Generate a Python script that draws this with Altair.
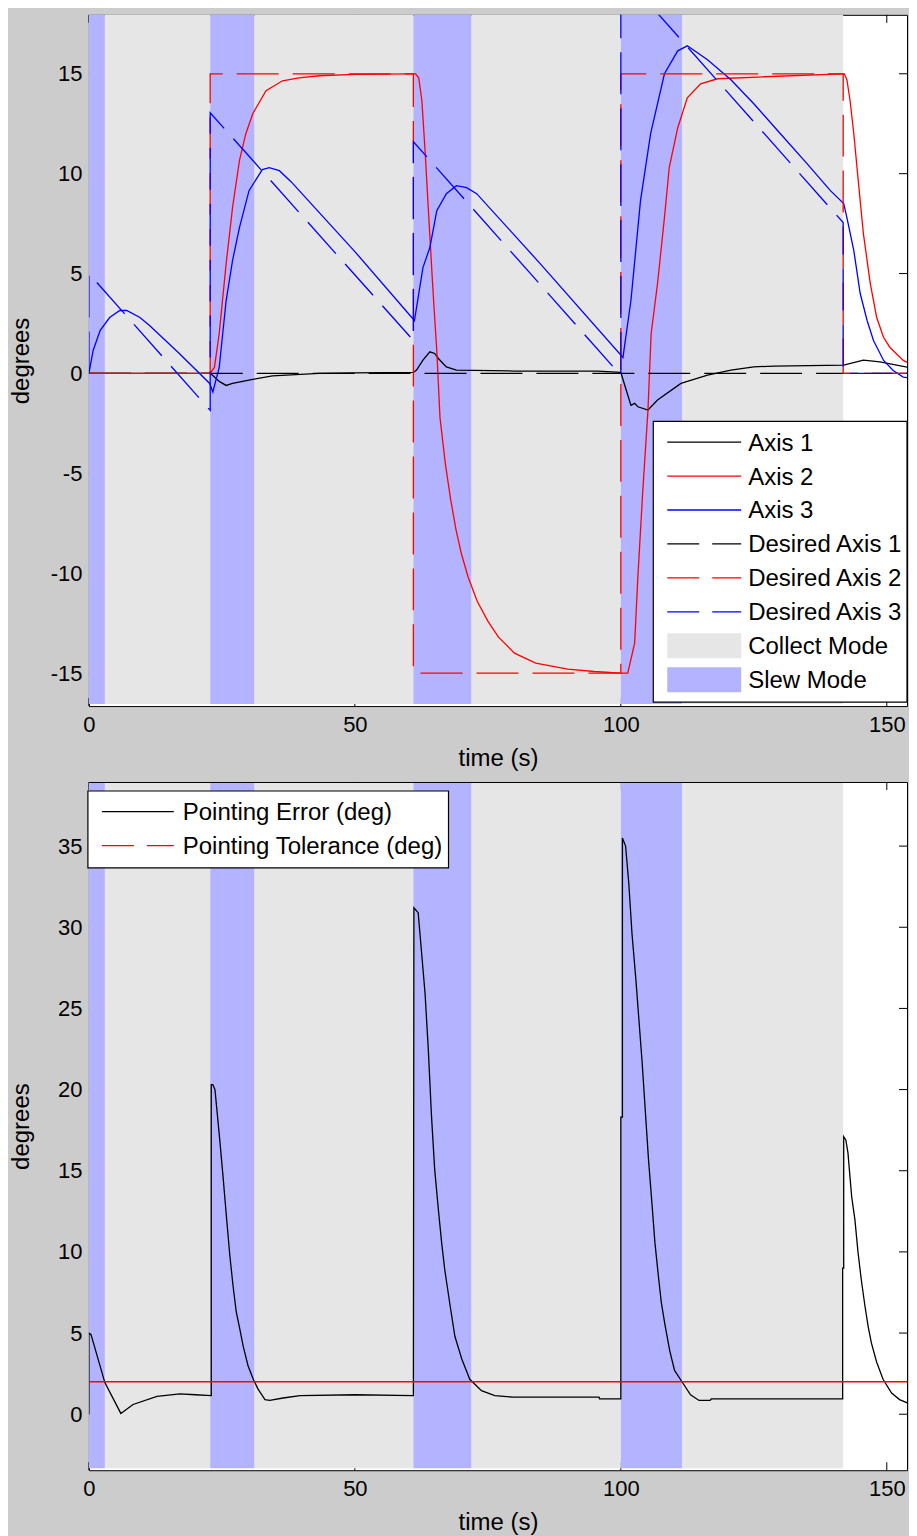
import altair as alt
import pandas as pd

# ---------------- data ----------------
# Top panel: attitude angles (deg) vs time (s)
t_axis1 = [0, 22.8, 23.3, 24.5, 25.8, 27.0, 30.8, 34.5, 38.9, 43.3, 50.0, 61.0, 61.6, 62.8, 64.1, 65.0,
           65.7, 67.2, 69.1, 80.0, 95.7, 100.0, 101.9, 102.6, 103.2, 105.1, 106.9, 111.3, 116.3, 120.7,
           125.0, 128.8, 141.9, 145.6, 148.7, 155.0]
axis1 = [0, 0, -0.1, -0.4, -0.6, -0.5, -0.3, -0.12, -0.06, 0, 0.03, 0.05, 0.17, 0.67, 1.08, 1.0,
         0.75, 0.33, 0.17, 0.12, 0.12, 0.05, -1.6, -1.5, -1.67, -1.83, -1.33, -0.5, -0.08, 0.17,
         0.33, 0.37, 0.42, 0.67, 0.58, 0.25]

t_axis2 = [0, 22.8, 23.6, 24.5, 25.8, 27.0, 28.3, 29.5, 30.8, 33.3, 36.4, 39.5, 43.3, 50, 61.0, 61.4,
           62.0, 62.6, 63.2, 63.9, 64.5, 64.8, 65.4, 66.0, 67.0, 68.0, 69.0, 70.0, 71.3, 73.0, 75.0,
           77.0, 80.0, 84.0, 90.0, 95.0, 100.0, 101.3, 102.6, 103.2, 104.1, 105.1, 105.7, 106.9, 108.2,
           109.1, 110.7, 112.5, 115.0, 118.2, 127.0, 141.6, 142.0, 142.5, 143.1, 143.8, 144.4, 145.0,
           145.6, 146.3, 146.9, 148.1, 149.4, 150.6, 153.1, 155.0]
axis2 = [0, 0, 0.3, 2.0, 5.5, 8.3, 10.65, 12.0, 13.0, 14.15, 14.65, 14.8, 14.9, 14.97, 15.0, 15.0,
         14.8, 13.65, 11.15, 7.8, 5.0, 3.65, 1.15, -2.2, -4.5, -6.3, -7.8, -9.0, -10.2, -11.4, -12.4,
         -13.2, -14.0, -14.5, -14.8, -14.92, -15.0, -15.0, -13.5, -10.2, -6.0, -1.85, 2.0, 4.5, 7.8,
         10.3, 12.3, 13.8, 14.5, 14.75, 14.85, 15.0, 15.0, 14.7, 13.65, 12.0, 10.3, 8.65,
         7.0, 5.65, 4.5, 2.8, 1.8, 1.3, 0.65, 0.4]

t_axis3 = [0, 0.8, 2.1, 3.9, 5.8, 7.1, 9.6, 11.4, 17.0, 22.7, 23.3, 24.5, 25.8, 27.0, 28.3, 30.1,
           32.6, 33.9, 35.8, 38.0, 50.0, 60.7, 61.2, 62.8, 64.1, 65.4, 67.2, 69.1, 71.0, 72.9, 85.0,
           100.4, 101.9, 103.7, 105.6, 108.2, 110.7, 112.5, 116.3, 120.7, 125.0, 130.0, 135.0, 139.4,
           141.9, 142.5, 143.8, 145.0, 146.3, 147.5, 149.4, 151.2, 153.1, 155.0]
axis3 = [0, 1.15, 2.15, 2.8, 3.15, 3.15, 2.8, 2.4, 1.0, -0.5, -0.93, 0.3, 3.65, 5.65, 7.3, 9.15,
         10.2, 10.3, 10.15, 9.6, 6.1, 2.8, 2.65, 5.3, 6.3, 8.15, 9.0, 9.4, 9.3, 9.0, 5.45,
         0.8, 3.65, 8.65, 12.0, 15.0, 16.15, 16.4, 15.7, 14.7, 13.5, 12.0, 10.5, 9.15,
         8.5, 7.8, 6.15, 4.0, 2.65, 1.65, 0.65, 0.15, -0.18, -0.27]

t_des1 = [0, 155.0]
des1 = [0, 0]
t_des2 = [0, 22.8, 22.8, 61.0, 61.0, 100.0, 100.0, 141.8, 141.8, 155.0]
des2 = [0, 0, 15, 15, -15, -15, 15, 15, 0, 0]
t_des3 = [0, 0, 22.8, 22.8, 61.0, 61.0, 100.0, 100.0, 141.8, 141.8, 155.0]
des3 = [0, 5.0, -1.85, 13.05, 1.65, 11.6, -0.1, 20.1, 7.55, 0, 0]

# Bottom panel: pointing error (deg) vs time (s)
t_err = [0, 0, 0.4, 3.0, 6.0, 8.3, 12.8, 17.1, 20.0, 23.0, 23.0, 23.3, 23.7, 24.6, 25.2, 25.9, 26.5,
         27.1, 27.7, 28.4, 29.0, 29.9, 30.9, 31.8, 33.1, 34.0, 36.5, 39.7, 50.0, 61.0, 61.1, 61.9,
         62.5, 63.2, 63.8, 64.4, 65.0, 65.7, 66.3, 66.9, 67.9, 68.8, 70.1, 71.6, 73.8, 76.3, 79.7,
         95.9, 96.0, 100.0, 100.0, 100.3, 100.3, 100.9, 101.5, 102.1, 102.8, 103.4, 104.0, 104.6,
         105.2, 105.8, 106.4, 107.0, 107.6, 108.3, 109.2, 110.1, 111.5, 113.1, 114.7, 116.8, 117.0,
         141.7, 141.7, 141.9, 141.9, 142.3, 142.7, 143.4, 144.0, 144.6, 145.2, 145.9, 146.5, 147.1,
         148.1, 149.3, 150.9, 152.4, 154.6, 155.0]
err = [0, 5.0, 4.9, 1.95, 0.05, 0.6, 1.1, 1.25, 1.2, 1.15, 20.3, 20.3, 20.0, 16.9, 14.7, 12.0, 9.75,
       7.9, 6.3, 5.2, 4.2, 3.0, 2.15, 1.55, 0.9, 0.85, 1.0, 1.15, 1.2, 1.15, 31.2, 30.9,
       28.6, 25.9, 22.5, 18.4, 15.1, 12.6, 10.6, 8.9, 6.7, 4.8, 3.4, 2.15, 1.45, 1.15, 1.05,
       1.05, 0.95, 0.95, 18.3, 18.3, 35.5, 35.0, 32.7, 29.6, 26.9, 24.3, 21.7, 18.7,
       15.7, 13.2, 10.6, 8.7, 6.9, 5.5, 3.9, 2.7, 2.0, 1.2, 0.85, 0.85, 0.95,
       0.95, 9.0, 9.0, 17.1, 16.9, 16.1, 13.4, 12.0, 9.95, 8.3, 6.65, 5.4, 4.4,
       3.2, 2.15, 1.3, 0.9, 0.6, 0.55]
t_tol = [0, 155.0]
tol = [2.0, 2.0]

# Mode intervals (s)
slew_start = [0.0, 22.8, 61.0, 100.0]
slew_end = [3.0, 31.1, 71.9, 111.5]
collect_start = [3.0, 31.1, 71.9, 111.5]
collect_end = [22.8, 61.0, 100.0, 141.8]

# Ticks and labels
x_ticks = [0, 50, 100, 150]
y_ticks_top = [-15, -10, -5, 0, 5, 10, 15]
y_ticks_bot = [0, 5, 10, 15, 20, 25, 30, 35]
legend_top = ["Axis 1", "Axis 2", "Axis 3", "Desired Axis 1", "Desired Axis 2", "Desired Axis 3",
              "Collect Mode", "Slew Mode"]
legend_bot = ["Pointing Error (deg)", "Pointing Tolerance (deg)"]

# ---------------- styling ----------------
FONT = "Liberation Sans"
W = 819
H1 = 692
H2 = 689
BLACK, RED, BLUE = "#000000", "#ff0000", "#0000ff"
COLLECT, SLEW, FIG = "#e6e6e6", "#b3b3ff", "#cccccc"
DASH = [42, 14]
LDASH = [32, 13]
LW = 1.3
TICK_FS = 22
TITLE_FS = 24
LEG_FS = 24

x_scale = alt.Scale(domain=[0, 153.8], nice=False, zero=False)
y_scale_top = alt.Scale(domain=[-16.65, 17.95], nice=False, zero=False)
y_scale_bot = alt.Scale(domain=[-3.45, 38.95], nice=False, zero=False)

minus_expr = "datum.value < 0 ? '-' + (-datum.value) : '' + datum.value"


def x_axis():
    return alt.Axis(values=x_ticks, title="time (s)", ticks=False, tickSize=0, domain=False, grid=False,
                    labelFont=FONT, labelFontSize=TICK_FS, labelColor=BLACK, labelPadding=8,
                    labelFlush=False, labelExpr=minus_expr,
                    titleFont=FONT, titleFontSize=TITLE_FS, titleFontWeight="normal", titleColor=BLACK,
                    titleY=59, titleBaseline="alphabetic")


def y_axis(vals):
    return alt.Axis(values=vals, title="degrees", ticks=False, tickSize=0, domain=False, grid=False,
                    labelFont=FONT, labelFontSize=TICK_FS, labelColor=BLACK, labelPadding=7,
                    labelFlush=False, labelExpr=minus_expr,
                    titleFont=FONT, titleFontSize=TITLE_FS, titleFontWeight="normal", titleColor=BLACK,
                    titleX=-60, titleBaseline="alphabetic", titleAngle=270)


def one(label=""):
    return pd.DataFrame({"label": [label]})


def legend_layers(labels, colors, dashes, swatches, box, line_x, text_x, y0, step):
    out = [alt.Chart(one()).mark_rect(fill="white", stroke=BLACK, strokeWidth=1.2).encode(
        x=alt.value(box[0]), x2=alt.value(box[1]), y=alt.value(box[2]), y2=alt.value(box[3]))]
    for i, lab in enumerate(labels):
        yc = y0 + step * i
        if swatches[i]:
            out.append(alt.Chart(one()).mark_rect(fill=colors[i]).encode(
                x=alt.value(line_x[0]), x2=alt.value(line_x[1]),
                y=alt.value(yc - 12.5), y2=alt.value(yc + 12.5)))
        else:
            mk = dict(color=colors[i], strokeWidth=LW)
            if dashes[i]:
                mk["strokeDash"] = dashes[i]
            out.append(alt.Chart(one()).mark_rule(**mk).encode(
                x=alt.value(line_x[0]), x2=alt.value(line_x[1]), y=alt.value(yc)))
        out.append(alt.Chart(one(lab)).mark_text(
            align="left", baseline="alphabetic", font=FONT, fontSize=LEG_FS, color=BLACK).encode(
            x=alt.value(text_x), y=alt.value(yc + 8.5), text="label:N"))
    return out


def panel(H, y_scale, y_vals, lines, legend, band_top, bound=False):
    def X(f):
        return alt.X(f"{f}:Q", scale=x_scale, axis=x_axis())

    def Y(f):
        return alt.Y(f"{f}:Q", scale=y_scale, axis=y_axis(y_vals))

    xt = pd.DataFrame({"tv": x_ticks})
    yt = pd.DataFrame({"tv": y_vals})
    layers = []
    if bound:
        # invisible guide that fixes the canvas extent (left margin, top margin, right edge)
        layers.append(alt.Chart(one()).mark_rule(stroke=BLACK, strokeOpacity=0, strokeWidth=1).encode(
            x=alt.value(-80.5), x2=alt.value(W + 0.5), y=alt.value(-5.5)))
    tick = dict(color=BLACK, strokeWidth=1)
    layers.append(alt.Chart(xt).mark_rule(**tick).encode(x=X("tv"), y=alt.value(H), y2=alt.value(H - 8)))
    layers.append(alt.Chart(xt).mark_rule(**tick).encode(x=X("tv"), y=alt.value(0), y2=alt.value(8)))
    layers.append(alt.Chart(yt).mark_rule(**tick).encode(y=Y("tv"), x=alt.value(0), x2=alt.value(8)))
    layers.append(alt.Chart(yt).mark_rule(**tick).encode(y=Y("tv"), x=alt.value(W), x2=alt.value(W - 8)))

    cdf = pd.DataFrame({"s": collect_start, "e": collect_end})
    sdf = pd.DataFrame({"s": slew_start, "e": slew_end})
    layers.append(alt.Chart(cdf).mark_rect(color=COLLECT).encode(
        x=X("s"), x2="e:Q", y=alt.value(band_top), y2=alt.value(H - 2)))
    layers.append(alt.Chart(sdf).mark_rect(color=SLEW).encode(
        x=X("s"), x2="e:Q", y=alt.value(band_top), y2=alt.value(H - 2)))

    for ts, vs, color, dash in lines:
        df = pd.DataFrame({"t": ts, "v": vs, "i": list(range(len(ts)))})
        mk = dict(color=color, strokeWidth=LW, clip=True)
        if dash:
            mk["strokeDash"] = dash
        layers.append(alt.Chart(df).mark_line(**mk).encode(x=X("t"), y=Y("v"), order="i:Q"))
    layers += legend
    return alt.layer(*layers).properties(width=W, height=H)


top_lines = [
    (t_axis1, axis1, BLACK, None),
    (t_axis2, axis2, RED, None),
    (t_axis3, axis3, BLUE, None),
    (t_des1, des1, BLACK, DASH),
    (t_des2, des2, RED, DASH),
    (t_des3, des3, BLUE, DASH),
]
top_legend = legend_layers(
    legend_top,
    [BLACK, RED, BLUE, BLACK, RED, BLUE, COLLECT, SLEW],
    [None, None, None, LDASH, LDASH, LDASH, None, None],
    [False] * 6 + [True, True],
    box=(565, W, 407, 688), line_x=(579, 653), text_x=660, y0=427.7, step=34.0)

bot_lines = [
    (t_err, err, BLACK, None),
    (t_tol, tol, RED, None),
]
bot_legend = legend_layers(
    legend_bot, [BLACK, RED], [None, LDASH], [False, False],
    box=(-1, 360, 9, 86), line_x=(13, 85), text_x=94, y0=29.7, step=34.0)

top = panel(H1, y_scale_top, y_ticks_top, top_lines, top_legend, band_top=0, bound=True)
bottom = panel(H2, y_scale_bot, y_ticks_bot, bot_lines, bot_legend, band_top=1)

chart = alt.vconcat(top, bottom, spacing=76, bounds="flush").resolve_scale(
    x="independent", y="independent").properties(background=FIG, padding=0).configure_view(
    stroke=BLACK, strokeWidth=1, fill="white")

chart.save("out.html", embed_options={"renderer": "svg", "actions": False})
